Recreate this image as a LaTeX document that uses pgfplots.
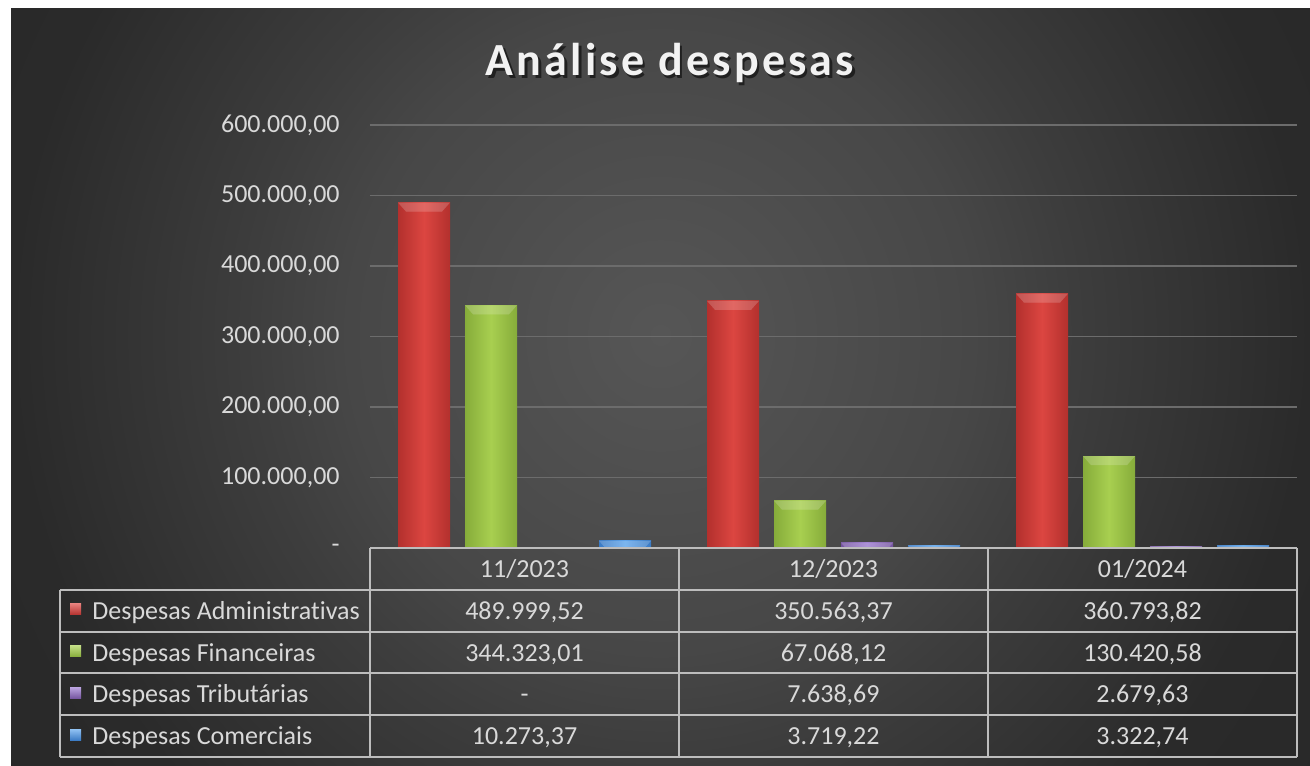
\documentclass[border=0pt]{standalone}
\usepackage{pgfplots}
\pgfplotsset{compat=1.18}
\usepackage{pgfplotstable}
\usepackage{fontspec}
\setmainfont{Carlito}[Ligatures=NoCommon]
\definecolor{txt}{HTML}{D9D9D9}
\definecolor{gridc}{HTML}{6C6C6C}
\definecolor{tline}{HTML}{BDBDBD}
\definecolor{redA}{HTML}{DC4641}\definecolor{redB}{HTML}{B3302D}
\definecolor{grnA}{HTML}{A8CF50}\definecolor{grnB}{HTML}{86AC3A}
\definecolor{purA}{HTML}{9C7AD0}\definecolor{purB}{HTML}{74549F}
\definecolor{bluA}{HTML}{5EA5EC}\definecolor{bluB}{HTML}{3A7AC4}
\definecolor{bg0}{HTML}{565656}\definecolor{bg1}{HTML}{474747}
\definecolor{bg2}{HTML}{3D3D3D}\definecolor{bg3}{HTML}{2A2A2A}\definecolor{bg4}{HTML}{222222}
\pgfdeclareradialshading{bgshade}{\pgfpoint{0bp}{0bp}}{color(0bp)=(bg0); color(12bp)=(bg1); color(16bp)=(bg2); color(25bp)=(bg3); color(50bp)=(bg4)}

\pgfplotstableread{
x adm fin trib com
0 489999.52 344323.01 0 10273.37
1 350563.37 67068.12 7638.69 3719.22
2 360793.82 130420.58 2679.63 3322.74
}\data

\tikzset{
  bevel/.style={path picture={
    \fill[path picture={}, draw=none, white, opacity=0.25] (path picture bounding box.north west) -- (path picture bounding box.north east)
      -- ([xshift=-4pt,yshift=-4.5pt]path picture bounding box.north east)
      -- ([xshift=4pt,yshift=-4.5pt]path picture bounding box.north west) -- cycle;}},
  cell/.style={font=\fontsize{13}{15}\selectfont, text=txt, anchor=base, inner sep=0pt},
}
% one bar: shift, colour prefix, column, category position
\newcommand{\onebar}[4]{%
  \addplot[draw=none, bar shift=#1, left color=#2B, right color=#2B, middle color=#2A, bevel,
    restrict x to domain=#4:#4]
    table[x=x, y=#3]{\data};}

\begin{document}
\begin{tikzpicture}
\path[use as bounding box] (0,0) rectangle (655pt,382.5pt);
\fill[white] (0,0) rectangle (655pt,382.5pt);
\begin{scope}
\clip (5.5pt,0) rectangle (655pt,378pt);
\shade[shading=bgshade] (5.5pt,-115pt) rectangle (655pt,545pt);
\end{scope}

% title with shadow
\node[anchor=base, text=black, opacity=0.55, font=\fontsize{23}{27}\selectfont\bfseries\addfontfeature{LetterSpace=7}] at (336.2pt,343.3pt) {Análise despesas};
\node[anchor=base, text=white!95!black, font=\fontsize{23}{27}\selectfont\bfseries\addfontfeature{LetterSpace=7}] at (335pt,344.5pt) {Análise despesas};

\begin{axis}[
  at={(185pt,108.5pt)}, anchor=south west,
  scale only axis, width=463.5pt, height=211.5pt,
  xmin=-0.5, xmax=2.5, ymin=0, ymax=600000,
  axis line style={draw=none}, tick style={draw=none},
  xtick=\empty,
  ytick={0,100000,200000,300000,400000,500000,600000},
  yticklabels={{-\hspace{7pt}},{100.000,00},{200.000,00},{300.000,00},{400.000,00},{500.000,00},{600.000,00}},
  scaled y ticks=false,
  yticklabel style={font=\fontsize{13}{15}\selectfont, text=txt, anchor=east, inner sep=0pt, xshift=-15pt},
  ymajorgrids, grid style={gridc, line width=0.8pt},
  ybar, bar width=26pt,
]
\onebar{-50.25pt}{red}{adm}{0}
\onebar{-50.25pt}{red}{adm}{1}
\onebar{-50.25pt}{red}{adm}{2}
\onebar{-16.75pt}{grn}{fin}{0}
\onebar{-16.75pt}{grn}{fin}{1}
\onebar{-16.75pt}{grn}{fin}{2}
\onebar{16.75pt}{pur}{trib}{0}
\onebar{16.75pt}{pur}{trib}{1}
\onebar{16.75pt}{pur}{trib}{2}
\onebar{50.25pt}{blu}{com}{0}
\onebar{50.25pt}{blu}{com}{1}
\onebar{50.25pt}{blu}{com}{2}
\end{axis}

% data table
\begin{scope}[tline, line width=1pt]
\draw (185pt,108.5pt) -- (648.5pt,108.5pt);
\draw (30pt,87.6pt) -- (648.5pt,87.6pt);
\draw (30pt,66.7pt) -- (648.5pt,66.7pt);
\draw (30pt,45.8pt) -- (648.5pt,45.8pt);
\draw (30pt,24.9pt) -- (648.5pt,24.9pt);
\draw (30pt,4pt) -- (648.5pt,4pt);
\draw (30pt,87.6pt) -- (30pt,4pt);
\draw (185pt,108.5pt) -- (185pt,4pt);
\draw (339.5pt,108.5pt) -- (339.5pt,4pt);
\draw (494pt,108.5pt) -- (494pt,4pt);
\draw (648.5pt,108.5pt) -- (648.5pt,4pt);
\end{scope}

% header
\node[cell] at (262.25pt,93.8pt) {11/2023};
\node[cell] at (416.75pt,93.8pt) {12/2023};
\node[cell] at (571.25pt,93.8pt) {01/2024};
% legend markers
\shade[top color=redA!70!white, bottom color=redB] (35pt,75pt) rectangle (40.5pt,80.5pt);
\shade[top color=grnA!70!white, bottom color=grnB] (35pt,54.1pt) rectangle (40.5pt,59.6pt);
\shade[top color=purA!70!white, bottom color=purB] (35pt,33.2pt) rectangle (40.5pt,38.7pt);
\shade[top color=bluA!70!white, bottom color=bluB] (35pt,12.3pt) rectangle (40.5pt,17.8pt);
% row labels
\node[cell, anchor=base west] at (46pt,72.9pt) {Despesas Administrativas};
\node[cell, anchor=base west] at (46pt,52.0pt) {Despesas Financeiras};
\node[cell, anchor=base west] at (46pt,31.1pt) {Despesas Tributárias};
\node[cell, anchor=base west] at (46pt,10.2pt) {Despesas Comerciais};
% values
\node[cell] at (262.25pt,72.9pt) {489.999,52};
\node[cell] at (416.75pt,72.9pt) {350.563,37};
\node[cell] at (571.25pt,72.9pt) {360.793,82};
\node[cell] at (262.25pt,52.0pt) {344.323,01};
\node[cell] at (416.75pt,52.0pt) {67.068,12};
\node[cell] at (571.25pt,52.0pt) {130.420,58};
\node[cell] at (262.25pt,31.1pt) {-};
\node[cell] at (416.75pt,31.1pt) {7.638,69};
\node[cell] at (571.25pt,31.1pt) {2.679,63};
\node[cell] at (262.25pt,10.2pt) {10.273,37};
\node[cell] at (416.75pt,10.2pt) {3.719,22};
\node[cell] at (571.25pt,10.2pt) {3.322,74};
\end{tikzpicture}
\end{document}
